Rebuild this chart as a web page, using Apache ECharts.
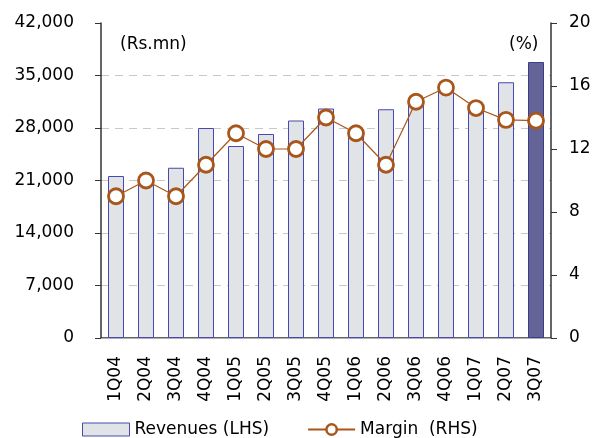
<!DOCTYPE html>
<html>
<head>
<meta charset="utf-8">
<script src="https://cdn.jsdelivr.net/npm/echarts@6/dist/echarts.min.js"></script>
<style>html,body{margin:0;padding:0;background:#fff}#c{width:594px;height:438px}</style>
</head>
<body>
<div id="c"></div>
<script>
const categories = ['1Q04','2Q04','3Q04','4Q04','1Q05','2Q05','3Q05','4Q05','1Q06','2Q06','3Q06','4Q06','1Q07','2Q07','3Q07'];
const revenues = [21600, 21000, 22700, 28000, 25600, 27200, 29000, 30600, 27000, 30500, 31500, 33000, 30600, 34100, 36800];
const margin = [9, 10, 9, 11, 13, 12, 12, 14, 13, 11, 15, 15.9, 14.6, 13.85, 13.8];
const leftTicks = {min: 0, max: 42000, interval: 7000};
const rightTicks = {min: 0, max: 20, interval: 4};

const FONT = 'DejaVu Sans';
const chart = echarts.init(document.getElementById('c'));
const barData = revenues.map((v, i) => i === revenues.length - 1
  ? {value: v, itemStyle: {color: '#646496', borderColor: '#3c3c8c'}}
  : v);
chart.setOption({
  animation: false,
  textStyle: {fontFamily: FONT},
  grid: {left: 101, right: 43, top: 23, bottom: 100},
  legend: {
    left: 77, top: 416, itemWidth: 47, itemHeight: 13, itemGap: 38,
    textStyle: {fontFamily: FONT, fontSize: 17, color: '#000'},
    data: [
      {name: 'Revenues (LHS)', icon: 'rect', itemStyle: {color: '#e1e4e7', borderColor: '#4848b0', borderWidth: 1}},
      {name: 'Margin  (RHS)', itemStyle: {borderWidth: 2.5}}
    ]
  },
  xAxis: [{
    type: 'category', data: categories,
    axisLine: {lineStyle: {color: '#333', width: 1.5}},
    axisTick: {alignWithLabel: false, length: 7, lineStyle: {color: '#333'}},
    axisLabel: {rotate: 90, fontSize: 17, color: '#000', fontFamily: FONT, margin: 18, interval: 0}
  }, {
    type: 'category', data: categories, position: 'top',
    axisLine: {show: true, lineStyle: {color: '#b0b0b0', width: 1}},
    axisTick: {show: false}, axisLabel: {show: false}
  }],
  yAxis: [{
    type: 'value', min: leftTicks.min, max: leftTicks.max, interval: leftTicks.interval,
    axisLine: {show: true, lineStyle: {color: '#333', width: 1.5}},
    axisTick: {show: true, length: 6, lineStyle: {color: '#333'}},
    axisLabel: {fontSize: 17, color: '#000', fontFamily: FONT, margin: 27,
      formatter: v => v.toLocaleString('en-US')},
    splitLine: {show: true, showMaxLine: false, showMinLine: false, lineStyle: {color: '#c8c8c8', type: [8, 6]}}
  }, {
    type: 'value', min: rightTicks.min, max: rightTicks.max, interval: rightTicks.interval,
    position: 'right',
    axisLine: {show: true, lineStyle: {color: '#333', width: 1.5}},
    axisTick: {show: true, length: 6, lineStyle: {color: '#333'}},
    axisLabel: {fontSize: 17, color: '#000', fontFamily: FONT, margin: 18},
    splitLine: {show: false}
  }],
  graphic: [
    {type: 'text', left: 120, top: 36, style: {text: '(Rs.mn)', fontFamily: FONT, fontSize: 17, fill: '#000'}},
    {type: 'text', left: 509, top: 36, style: {text: '(%)', fontFamily: FONT, fontSize: 17, fill: '#000'}}
  ],
  series: [{
    name: 'Revenues (LHS)', type: 'bar', data: barData, barWidth: 16,
    itemStyle: {color: '#e1e4e7', borderColor: '#4848b0', borderWidth: 1}
  }, {
    name: 'Margin  (RHS)', type: 'line', yAxisIndex: 1, data: margin,
    symbol: 'circle', symbolSize: 15,
    lineStyle: {color: '#a8561a', width: 1.2},
    itemStyle: {color: '#fff', borderColor: '#a8561a', borderWidth: 2.8}
  }]
});
</script>
</body>
</html>
